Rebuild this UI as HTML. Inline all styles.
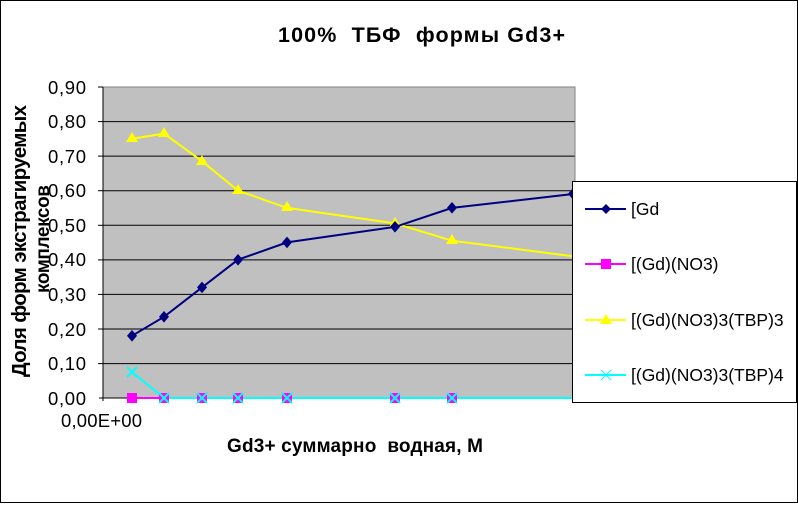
<!DOCTYPE html>
<html><head><meta charset="utf-8"><style>
body{margin:0;background:#fff}
svg text{font-family:"Liberation Sans",Arial,sans-serif;white-space:pre}
</style></head><body>
<svg width="798" height="503" xmlns="http://www.w3.org/2000/svg">
<rect x="0.5" y="0.5" width="797" height="502" fill="#fff" stroke="#000"/>
<text x="278" y="42" font-size="21.5" font-weight="bold" textLength="287" lengthAdjust="spacing" xml:space="preserve">100%  ТБФ  формы Gd3+</text>
<rect x="103" y="87" width="472" height="311" fill="#c0c0c0"/>
<g stroke="#000" stroke-width="1">
<line x1="103" y1="121.6" x2="575" y2="121.6"/>
<line x1="103" y1="156.1" x2="575" y2="156.1"/>
<line x1="103" y1="190.7" x2="575" y2="190.7"/>
<line x1="103" y1="225.3" x2="575" y2="225.3"/>
<line x1="103" y1="259.9" x2="575" y2="259.9"/>
<line x1="103" y1="294.4" x2="575" y2="294.4"/>
<line x1="103" y1="329" x2="575" y2="329"/>
<line x1="103" y1="363.6" x2="575" y2="363.6"/>
</g>
<path d="M103 87H575V398" fill="none" stroke="#808080"/>
<path d="M103 87V401M99 398H575" stroke="#000" fill="none"/>
<g stroke="#000"><line x1="98" y1="87" x2="103" y2="87"/><line x1="98" y1="121.6" x2="103" y2="121.6"/><line x1="98" y1="156.1" x2="103" y2="156.1"/><line x1="98" y1="190.7" x2="103" y2="190.7"/><line x1="98" y1="225.3" x2="103" y2="225.3"/><line x1="98" y1="259.9" x2="103" y2="259.9"/><line x1="98" y1="294.4" x2="103" y2="294.4"/><line x1="98" y1="329" x2="103" y2="329"/><line x1="98" y1="363.6" x2="103" y2="363.6"/></g>
<g font-size="18.5">
<text x="48" y="94" textLength="38">0,90</text><text x="48" y="128" textLength="38">0,80</text><text x="48" y="163" textLength="38">0,70</text><text x="48" y="197" textLength="38">0,60</text><text x="48" y="232" textLength="38">0,50</text><text x="48" y="266" textLength="38">0,40</text><text x="48" y="301" textLength="38">0,30</text><text x="48" y="336" textLength="38">0,20</text><text x="48" y="370" textLength="38">0,10</text><text x="48" y="405" textLength="38">0,00</text>
</g>
<text x="61" y="427" font-size="18.5" textLength="81">0,00E+00</text>
<text x="227" y="452" font-size="19" font-weight="bold" textLength="256" lengthAdjust="spacing" xml:space="preserve">Gd3+ суммарно  водная, М</text>
<text transform="translate(26,377) rotate(-90)" font-size="20.5" font-weight="bold" textLength="272" lengthAdjust="spacing">Доля форм экстрагируемых</text>
<text transform="translate(49,293) rotate(-90)" font-size="19" font-weight="bold" textLength="108" lengthAdjust="spacing">комплексов</text>
<polyline fill="none" stroke="#ffff00" stroke-width="2" points="132,138.7 164,133.6 202,161.2 238,190.6 287,207.9 395,223.4 452,240.7 573,256.3"/>
<g fill="#ffff00">
<path d="M132 132l6 10h-12z"/><path d="M164 127l6 10h-12z"/><path d="M202 155l6 10h-12z"/><path d="M238 184l6 10h-12z"/><path d="M287 201l6 10h-12z"/><path d="M395 217l6 10h-12z"/><path d="M452 234l6 10h-12z"/>
</g>
<polyline fill="none" stroke="#000080" stroke-width="2" points="132,335.8 164,316.8 202,287.4 238,259.7 287,242.4 395,226.9 452,207.9 573,194"/>
<g fill="#000080">
<path d="M132 330l5 5.8-5 5.8-5-5.8z"/><path d="M164 311l5 5.8-5 5.8-5-5.8z"/><path d="M202 281.6l5 5.8-5 5.8-5-5.8z"/><path d="M238 254l5 5.8-5 5.8-5-5.8z"/><path d="M287 236.6l5 5.8-5 5.8-5-5.8z"/><path d="M395 221l5 5.8-5 5.8-5-5.8z"/><path d="M452 202l5 5.8-5 5.8-5-5.8z"/><path d="M573 188l5 5.8-5 5.8-5-5.8z"/>
</g>
<line x1="132" y1="398" x2="575" y2="398" stroke="#ff00ff" stroke-width="2"/>
<polyline fill="none" stroke="#00ffff" stroke-width="2" points="132,372 164,398 575,398"/>
<rect x="127" y="393" width="10" height="10" fill="#ff00ff"/>
<g fill="#ff00ff"><rect x="159" y="393" width="10" height="10"/><rect x="197" y="393" width="10" height="10"/><rect x="233" y="393" width="10" height="10"/><rect x="282" y="393" width="10" height="10"/><rect x="390" y="393" width="10" height="10"/><rect x="447" y="393" width="10" height="10"/></g>
<g stroke="#00ffff" stroke-width="2">
<path d="M127 367l10 10M137 367l-10 10"/><path d="M159 393l10 10M169 393l-10 10"/><path d="M197 393l10 10M207 393l-10 10"/><path d="M233 393l10 10M243 393l-10 10"/><path d="M282 393l10 10M292 393l-10 10"/><path d="M390 393l10 10M400 393l-10 10"/><path d="M447 393l10 10M457 393l-10 10"/>
</g>
<rect x="572.5" y="181.5" width="224" height="221" fill="#fff" stroke="#000"/>
<g font-size="17.5">
<line x1="585" y1="209" x2="626" y2="209" stroke="#000080" stroke-width="2"/><path d="M606 204l5 5-5 5-5-5z" fill="#000080"/><text x="631" y="215">[Gd</text>
<line x1="585" y1="264" x2="626" y2="264" stroke="#ff00ff" stroke-width="2"/><rect x="601" y="259" width="10" height="10" fill="#ff00ff"/><text x="631" y="270">[(Gd)(NO3)</text>
<line x1="585" y1="320" x2="626" y2="320" stroke="#ffff00" stroke-width="2"/><path d="M606 314l6 10h-12z" fill="#ffff00"/><text x="631" y="326">[(Gd)(NO3)3(TBP)3</text>
<line x1="585" y1="375" x2="626" y2="375" stroke="#00ffff" stroke-width="2"/><path d="M601 370l10 10M611 370l-10 10" stroke="#00ffff"/><text x="631" y="381">[(Gd)(NO3)3(TBP)4</text>
</g>
</svg>
</body></html>
